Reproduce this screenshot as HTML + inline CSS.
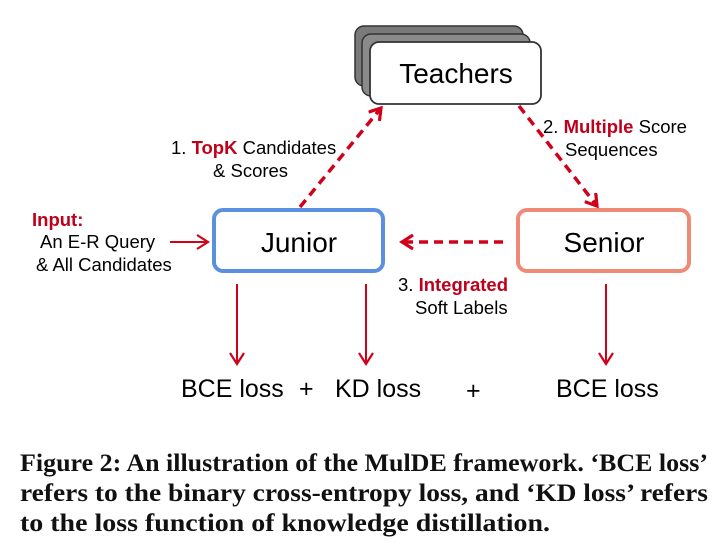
<!DOCTYPE html>
<html><head><meta charset="utf-8"><style>
html,body{margin:0;padding:0;background:#fff;}
svg{display:block;}
text{font-family:"Liberation Sans",sans-serif;}
.cap{font-family:"Liberation Serif",serif;font-weight:bold;font-size:25px;fill:#111;}
</style></head><body>
<svg width="728" height="558" viewBox="0 0 728 558" xmlns="http://www.w3.org/2000/svg">
<defs>
<marker id="ah" markerWidth="14" markerHeight="16" refX="12" refY="8" orient="auto" markerUnits="userSpaceOnUse">
<path d="M1,1 L12,8 L1,15" fill="none" stroke="#d0021b" stroke-width="2.2"/>
</marker>
<marker id="ah2" markerWidth="16" markerHeight="16" refX="12" refY="8" orient="auto" markerUnits="userSpaceOnUse">
<path d="M1,1 L12,8 L1,15" fill="none" stroke="#d0021b" stroke-width="3.2"/>
</marker>
</defs>
<rect x="355" y="26" width="168" height="60" rx="9" fill="#7a7a7a" stroke="#333" stroke-width="1.5"/>
<rect x="362" y="34" width="168" height="62" rx="9" fill="#8a8a8a" stroke="#333" stroke-width="1.5"/>
<rect x="370" y="42" width="171" height="62" rx="9" fill="#fff" stroke="#333" stroke-width="1.8"/>
<text x="456" y="83" font-size="28" text-anchor="middle" fill="#000">Teachers</text>
<rect x="214" y="210" width="169" height="61" rx="9" fill="#fff" stroke="#5b8fdf" stroke-width="4"/>
<text x="299" y="252" font-size="28" text-anchor="middle" fill="#000">Junior</text>
<rect x="518" y="210" width="171" height="61" rx="9" fill="#fff" stroke="#ee8a76" stroke-width="4"/>
<text x="604" y="252" font-size="28" text-anchor="middle" fill="#000">Senior</text>
<line x1="300" y1="207" x2="381" y2="108" stroke="#d0021b" stroke-width="3.5" stroke-dasharray="9,6" marker-end="url(#ah2)"/>
<line x1="519" y1="106" x2="597" y2="206" stroke="#d0021b" stroke-width="3.5" stroke-dasharray="9,6" marker-end="url(#ah2)"/>
<line x1="503" y1="242" x2="402" y2="242" stroke="#d0021b" stroke-width="3.5" stroke-dasharray="9,6" marker-end="url(#ah2)"/>
<line x1="170" y1="242" x2="208" y2="242" stroke="#d0021b" stroke-width="2" marker-end="url(#ah)"/>
<line x1="237" y1="284" x2="237" y2="364" stroke="#d0021b" stroke-width="2" marker-end="url(#ah)"/>
<line x1="366" y1="284" x2="366" y2="364" stroke="#d0021b" stroke-width="2" marker-end="url(#ah)"/>
<line x1="606" y1="284" x2="606" y2="364" stroke="#d0021b" stroke-width="2" marker-end="url(#ah)"/>
<text x="32" y="226" font-size="18.5" font-weight="bold" fill="#c0001a">Input:</text>
<text x="40" y="248" font-size="18.5" fill="#000">An E-R Query</text>
<text x="36" y="271" font-size="18.5" fill="#000">&amp; All Candidates</text>
<text x="171" y="154" font-size="18.5" fill="#000">1. <tspan font-weight="bold" fill="#c0001a">TopK</tspan> Candidates</text>
<text x="213" y="177" font-size="18.5" fill="#000">&amp; Scores</text>
<text x="543" y="133" font-size="18.5" fill="#000">2. <tspan font-weight="bold" fill="#c0001a">Multiple</tspan> Score</text>
<text x="565" y="156" font-size="18.5" fill="#000">Sequences</text>
<text x="398" y="291" font-size="18.5" fill="#000">3. <tspan font-weight="bold" fill="#c0001a">Integrated</tspan></text>
<text x="415" y="314" font-size="18.5" fill="#000">Soft Labels</text>
<text x="181" y="397" font-size="25" fill="#000">BCE loss</text>
<text x="299" y="397" font-size="25" fill="#000">+</text>
<text x="335" y="397" font-size="25" fill="#000">KD loss</text>
<text x="466" y="399" font-size="25" fill="#000">+</text>
<text x="556" y="397" font-size="25" fill="#000">BCE loss</text>
<text class="cap" x="20" y="471" textLength="688" lengthAdjust="spacingAndGlyphs">Figure 2: An illustration of the MulDE framework. ‘BCE loss’</text>
<text class="cap" x="20" y="501" textLength="688" lengthAdjust="spacingAndGlyphs">refers to the binary cross-entropy loss, and ‘KD loss’ refers</text>
<text class="cap" x="20" y="531" textLength="530" lengthAdjust="spacingAndGlyphs">to the loss function of knowledge distillation.</text>
</svg>
</body></html>
